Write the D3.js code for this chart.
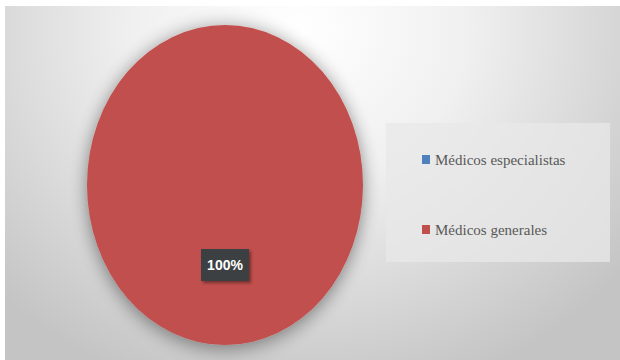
<!DOCTYPE html>
<html>
<head>
<meta charset="utf-8">
<script src="https://d3js.org/d3.v7.min.js"></script>
<style>
  body { margin: 0; background: #fff; }
  svg { display: block; }
</style>
</head>
<body>
<div id="chart"></div>
<script>
  // datos
  const categories = ["Médicos especialistas", "Médicos generales"];
  const values = [0, 100];
  const colors = ["#4f81bd", "#c0504d"];

  const W = 620, H = 360;
  const svg = d3.select("#chart").append("svg")
    .attr("width", W).attr("height", H);

  const defs = svg.append("defs");
  const grad = defs.append("radialGradient")
    .attr("id", "bg").attr("gradientUnits", "userSpaceOnUse")
    .attr("cx", 300).attr("cy", 30).attr("r", 420)
    .attr("gradientTransform", "translate(300,30) scale(1,0.9) translate(-300,-30)");
  grad.append("stop").attr("offset", "0%").attr("stop-color", "#ffffff");
  grad.append("stop").attr("offset", "40%").attr("stop-color", "#f0f0f0");
  grad.append("stop").attr("offset", "100%").attr("stop-color", "#c4c4c4");

  const shadow = defs.append("filter").attr("id", "shadow")
    .attr("x", "-30%").attr("y", "-30%").attr("width", "160%").attr("height", "160%");
  shadow.append("feGaussianBlur").attr("in", "SourceAlpha").attr("stdDeviation", 10);
  shadow.append("feOffset").attr("dx", 0).attr("dy", 3).attr("result", "b");
  shadow.append("feComponentTransfer").append("feFuncA").attr("type", "linear").attr("slope", 0.45);
  const m = shadow.append("feMerge");
  m.append("feMergeNode");
  m.append("feMergeNode").attr("in", "SourceGraphic");

  const lblShadow = defs.append("filter").attr("id", "lshadow")
    .attr("x", "-30%").attr("y", "-30%").attr("width", "160%").attr("height", "160%");
  lblShadow.append("feDropShadow").attr("dx", 2).attr("dy", 2)
    .attr("stdDeviation", 1.5).attr("flood-color", "#000").attr("flood-opacity", 0.4);

  // fondo del gráfico
  svg.append("rect").attr("x", 5).attr("y", 6).attr("width", W - 5).attr("height", H - 6)
    .attr("fill", "url(#bg)");

  // pastel (elipse)
  const cx = 225, cy = 185, rx = 138, ry = 160;
  const pie = d3.pie().sort(null).startAngle(0).endAngle(2 * Math.PI);
  const arcs = pie(values);
  const arc = d3.arc().innerRadius(0).outerRadius(ry);

  const g = svg.append("g")
    .attr("transform", `translate(${cx},${cy}) scale(${rx / ry},1)`)
    .attr("filter", "url(#shadow)");
  g.selectAll("path").data(arcs).enter().append("path")
    .attr("d", arc)
    .attr("fill", (d, i) => colors[i]);

  // etiqueta de datos
  const lbl = svg.append("g");
  arcs.filter(d => d.data > 0).forEach(d => {
    const c = arc.centroid(d);
    const x = cx + c[0] * rx / ry, y = cy + c[1];
    const total = d3.sum(values);
    const gg = lbl.append("g").attr("transform", `translate(${x},${y})`);
    gg.append("rect").attr("x", -24).attr("y", -16).attr("width", 48).attr("height", 32)
      .attr("fill", "#3c3f42").attr("filter", "url(#lshadow)");
    gg.append("text").attr("text-anchor", "middle").attr("y", 5)
      .attr("fill", "#fff").attr("font-family", "Liberation Sans, Arial, sans-serif")
      .attr("font-weight", "bold").attr("font-size", 14)
      .text(Math.round(d.data / total * 100) + "%");
  });

  // leyenda
  const leg = svg.append("g");
  leg.append("rect").attr("x", 386).attr("y", 123).attr("width", 224).attr("height", 139)
    .attr("fill", "#e8e8e8").attr("fill-opacity", 0.75);
  const rows = leg.selectAll("g.item").data(categories).enter().append("g")
    .attr("class", "item")
    .attr("transform", (d, i) => `translate(422,${155 + i * 70})`);
  rows.append("rect").attr("width", 8).attr("height", 9)
    .attr("fill", (d, i) => colors[i]);
  rows.append("text").attr("x", 13).attr("y", 9.5)
    .attr("fill", "#595959").attr("font-family", "Liberation Serif, serif")
    .attr("font-size", 15)
    .text(d => d);
</script>
</body>
</html>
